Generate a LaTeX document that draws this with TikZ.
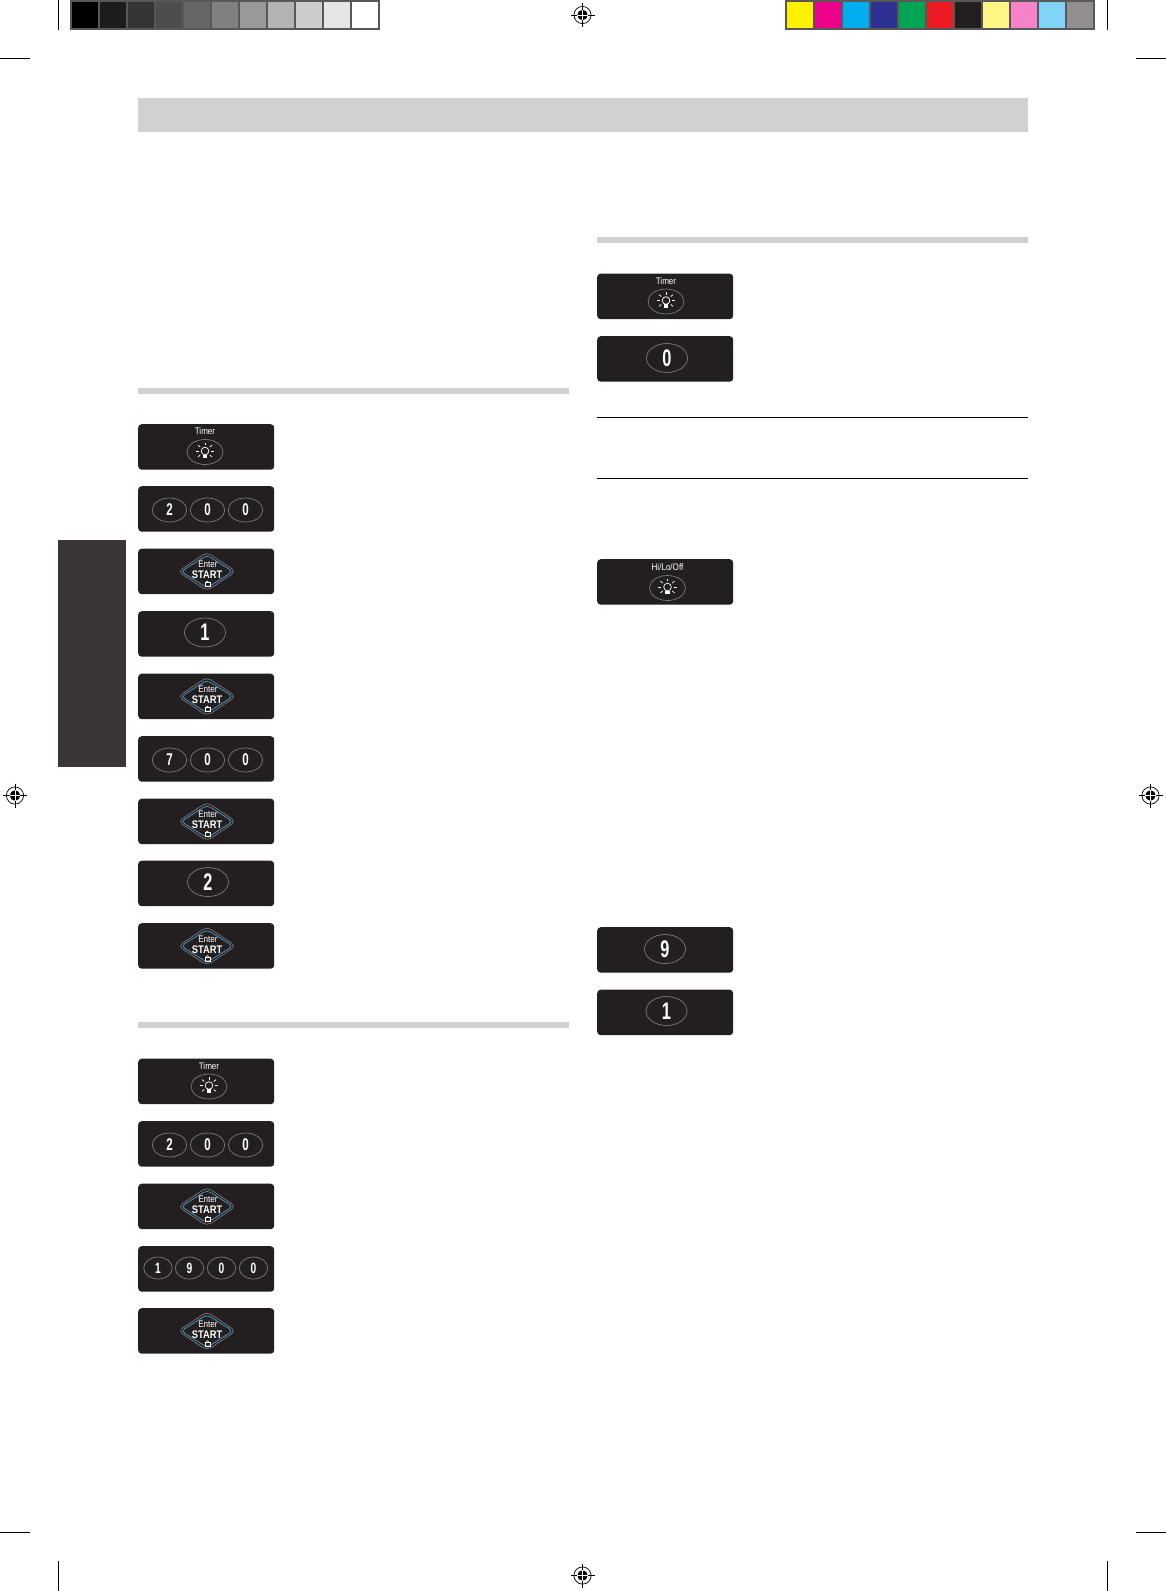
\documentclass[tikz,border=0pt]{standalone}
\usepackage{fontspec}
\setmainfont{Liberation Sans}
\newfontfamily\keyfont[FakeStretch=0.68]{Liberation Sans}
\newfontfamily\capfont[FakeStretch=0.85]{Liberation Sans}
\usetikzlibrary{shapes.geometric}
\definecolor{panelc}{HTML}{231F20}
\definecolor{barc}{HTML}{D1D1D1}
\definecolor{tabc}{HTML}{3A3536}
\definecolor{framec}{HTML}{585858}
\definecolor{ringc}{HTML}{7A7A7A}
\definecolor{bluec}{HTML}{4A93BE}
\tikzset{
  panelbox/.style={draw=none,fill=panelc,rounded corners=3.5pt,minimum width=136pt,minimum height=45.5pt,inner sep=0pt,anchor=north west},
  keyring/.style={ellipse,draw=ringc,line width=.7pt,inner sep=0pt,text=white,font=\keyfont\bfseries\fontsize{17}{17}\selectfont},
  smallkey/.style={keyring,minimum width=34.5pt,minimum height=24pt},
  tinykey/.style={keyring,minimum width=28.5pt,minimum height=22pt,font=\keyfont\bfseries\fontsize{15}{15}\selectfont},
  bigkey/.style={keyring,minimum width=41pt,minimum height=29pt,font=\keyfont\bfseries\fontsize{24}{24}\selectfont},
  bulbkey/.style={keyring,minimum width=36pt,minimum height=25pt},
  captiontxt/.style={text=white,inner sep=0pt,font=\capfont\fontsize{9.5}{9.5}\selectfont},
  barfill/.style={fill=barc,draw=none},
  crop/.style={draw=black,line width=.8pt},
  startouter/.style={diamond,draw=ringc,line width=.7pt,minimum width=58pt,minimum height=39pt,inner sep=0pt,rounded corners=5pt},
  startinner/.style={diamond,draw=bluec,line width=.8pt,minimum width=52pt,minimum height=33pt,inner sep=0pt,rounded corners=4pt},
}
% bulb glyph at a named centre
\newcommand{\bulbglyph}[1]{%
  \begin{scope}[shift={(#1)},white,line width=.7pt]
    \draw (0,-1) circle (3.8pt);
    \fill (-2.2,2.6) rectangle (2.2,6);
    \foreach \a in {0,40,140,180,220,320}{\draw (0,-1) ++(\a:6.2pt) -- ++(\a:3pt);}
    \draw (0,-6.6) -- (0,-9.2);
  \end{scope}}
% START key inside a panel (#1 name, #2 x top-left, #3 y top-left)
\newcommand{\startpanel}[3]{%
  \node[panelbox] (#1) at (#2,#3) {};
  \node[startouter] (#1o) at (#2+69,#3+23) {};
  \node[startinner] (#1i) at (#2+69,#3+23) {};
  \node[captiontxt] (#1e) at (#2+70,#3+16) {Enter};
  \node[captiontxt,font=\capfont\bfseries\fontsize{11}{11}\selectfont] (#1s) at (#2+69,#3+26.5) {START};
  \draw[white,line width=.45pt] (#2+66.8,#3+38) rectangle (#2+71.8,#3+34);
  \draw[white,line width=.45pt] (#2+67.8,#3+34) arc[start angle=180,end angle=0,radius=1.5pt];
}
% bulb panel (#1 name, #2 x, #3 y, #4 key x, #5 caption y off, #6 ring y off, #7 caption)
\newcommand{\bulbpanel}[7]{%
  \node[panelbox] (#1) at (#2,#3) {};
  \node[captiontxt] (#1t) at (#4,#3+#5) {#7};
  \node[bulbkey] (#1k) at (#4,#3+#6) {};
  \coordinate (#1c) at (#4,#3+#6);
  \bulbglyph{#1c}
}
\newcommand{\threekeys}[5]{%
  \node[panelbox] (#1) at (138,#2) {};
  \node[smallkey] (#1a) at (169.5,#2+24) {#3};
  \node[smallkey] (#1b) at (207.5,#2+24) {#4};
  \node[smallkey] (#1c) at (245.5,#2+24) {#5};
}
\newcommand{\regmark}[2]{%
  \coordinate (#1) at (#2);
  \begin{scope}[shift={(#1)}]
    \draw[black,line width=.7pt] (0,0) circle (8.6pt);
    \fill[black] (0,0) circle (5.2pt);
    \draw[black,line width=.8pt] (-12,0) -- (12,0) (0,-12) -- (0,12);
    \draw[white,line width=.8pt] (-5.2,0) -- (5.2,0) (0,-5.2) -- (0,5.2);
    \fill[white] (0,0) circle (.5pt);
  \end{scope}}
\begin{document}
\begin{tikzpicture}[x=1pt,y=-1pt]
\useasboundingbox (0,0) rectangle (1166,1591);
\fill[white] (0,0) rectangle (1166,1591);
% crop marks
\draw[crop] (58.5,0) -- (58.5,30);
\draw[crop] (0,58.5) -- (30,58.5);
\draw[crop] (1107.5,0) -- (1107.5,30);
\draw[crop] (1136,58.5) -- (1166,58.5);
\draw[crop] (58.5,1561) -- (58.5,1591);
\draw[crop] (0,1532.5) -- (30,1532.5);
\draw[crop] (1107.5,1561) -- (1107.5,1591);
\draw[crop] (1136,1532.5) -- (1166,1532.5);
% colour strips
\fill[framec] (70,0) rectangle (380,30);
\foreach \c [count=\i from 0] in {000000,1C1C1C,343434,4D4D4D,666666,808080,999999,B3B3B3,CCCCCC,E6E6E6,FFFFFF}{
  \definecolor{tmpc}{HTML}{\c}
  \fill[tmpc] (72+28*\i,2) rectangle ++(26.4,26.4);
}
\fill[framec] (785,0) rectangle (1095,30);
\foreach \c [count=\i from 0] in {FFF200,EC008C,00AEEF,2E3192,00A651,ED1C24,231F20,FFF685,F682C8,80D4F8,918F90}{
  \definecolor{tmpc}{HTML}{\c}
  \fill[tmpc] (787+28*\i,2) rectangle ++(26.4,26.4);
}
% registration marks
\regmark{rt}{582.5,15}
\regmark{rb}{582.5,1575.5}
\regmark{rl}{15,795.5}
\regmark{rr}{1150.5,795.5}
% bars, rules, tab
\fill[barfill] (138,98) rectangle (1028,132);
\fill[barfill] (138,388) rectangle (569,394);
\fill[barfill] (138,1022) rectangle (569,1028);
\fill[barfill] (597,237) rectangle (1028,243);
\draw[black,line width=.8pt] (597,417.5) -- (1028,417.5);
\draw[black,line width=.8pt] (597,478.5) -- (1028,478.5);
\fill[tabc] (58,540) rectangle (126,767);
% left column, first group
\bulbpanel{pa}{138}{424}{205}{7.5}{28}{Timer}
\threekeys{pb}{486}{2}{0}{0}
\startpanel{pc}{138}{548.5}
\node[panelbox] (pd) at (138,611) {};
\node[bigkey] (pdk) at (205,632.5) {1};
\startpanel{pe}{138}{673.5}
\threekeys{pf}{736}{7}{0}{0}
\startpanel{pg}{138}{798.5}
\node[panelbox] (ph) at (138,860.5) {};
\node[bigkey] (phk) at (208,882) {2};
\startpanel{pi}{138}{923}
% left column, second group
\bulbpanel{qa}{138}{1058.5}{209}{8}{28}{Timer}
\threekeys{qb}{1121}{2}{0}{0}
\startpanel{qc}{138}{1183.5}
\node[panelbox] (qd) at (138,1246) {};
\node[tinykey] (qd1) at (158,1268) {1};
\node[tinykey] (qd2) at (189.5,1268) {9};
\node[tinykey] (qd3) at (221.5,1268) {0};
\node[tinykey] (qd4) at (253.5,1268) {0};
\startpanel{qe}{138}{1308}
% right column
\bulbpanel{ra}{597}{273.5}{666}{8}{28}{Timer}
\node[panelbox] (rb) at (597,336) {};
\node[bigkey] (rbk) at (667,358) {0};
\bulbpanel{rc}{597}{559}{667.5}{8}{29}{Hi/Lo/Off}
\node[panelbox] (rd) at (597,927) {};
\node[bigkey] (rdk) at (665,949) {9};
\node[panelbox] (re) at (597,989.5) {};
\node[bigkey] (rek) at (666.5,1011) {1};
\end{tikzpicture}
\end{document}
